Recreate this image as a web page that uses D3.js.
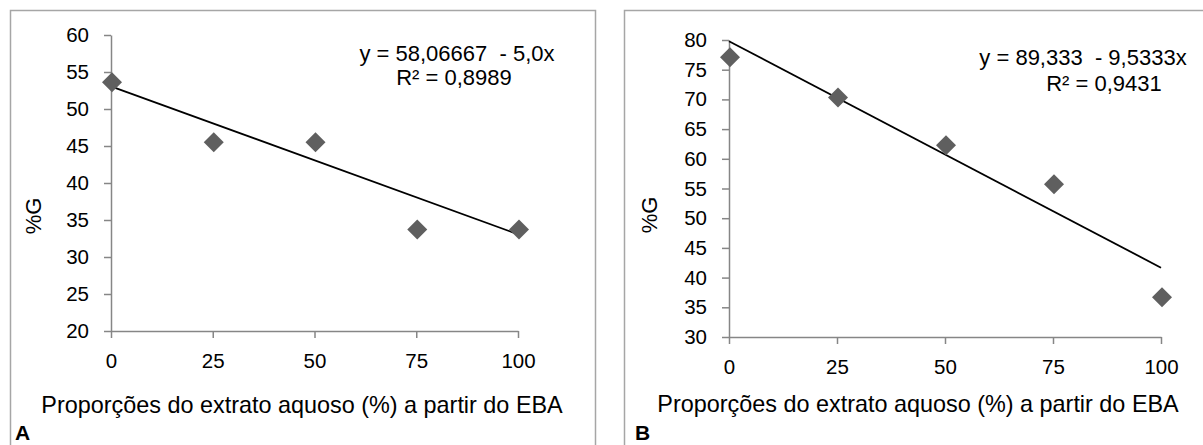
<!DOCTYPE html>
<html>
<head>
<meta charset="utf-8">
<script src="https://cdn.jsdelivr.net/npm/d3@7"></script>
<style>
  html, body { margin: 0; padding: 0; background: #fff; }
  svg { display: block; font-family: "Liberation Sans", Arial, sans-serif; }
  text { fill: #000; }
</style>
</head>
<body>
<svg id="chart" width="1203" height="445"></svg>
<script>
// ---------- data ----------
const categories = [0, 25, 50, 75, 100];
const valuesA = [53.6, 45.5, 45.5, 33.7, 33.7];
const valuesB = [77.1, 70.3, 62.3, 55.7, 36.7];
const trendA = [53.07, 33.07];
const trendB = [79.8, 41.67];
const yTicksA = [20, 25, 30, 35, 40, 45, 50, 55, 60];
const yTicksB = [30, 35, 40, 45, 50, 55, 60, 65, 70, 75, 80];
const xTickLabels = ["0", "25", "50", "75", "100"];
const eqA = ["y = 58,06667  - 5,0x", "R² = 0,8989"];
const eqB = ["y = 89,333  - 9,5333x", "R² = 0,9431"];
const xTitle = "Proporções do extrato aquoso (%) a partir do EBA";
const yTitle = "%G";
const panelLabels = ["A", "B"];

// ---------- layout ----------
const panels = [
  { label: panelLabels[0], values: valuesA, trend: trendA, yTicks: yTicksA, eq: eqA,
    frameX: 10, frameW: 585, x0: 111, x1: 518, yTop: 35, yBot: 331,
    eqX: [457, 454], eqY: [61, 85], yTitleX: 41, yTitleY: 216, titleX: 302, titleY: 413,
    labelX: 15 },
  { label: panelLabels[1], values: valuesB, trend: trendB, yTicks: yTicksB, eq: eqB,
    frameX: 624, frameW: 588, x0: 729, x1: 1161, yTop: 40, yBot: 337,
    eqX: [1083, 1104], eqY: [65, 91], yTitleX: 657, yTitleY: 215, titleX: 918, titleY: 412,
    labelX: 635 }
];

const svg = d3.select("#chart");

panels.forEach(p => {
  const g = svg.append("g");

  // frame
  g.append("rect")
    .attr("x", p.frameX + 0.5).attr("y", 10.5)
    .attr("width", p.frameW).attr("height", 460)
    .attr("fill", "none").attr("stroke", "#a6a6a6").attr("stroke-width", 1.5);

  const x = d3.scaleLinear().domain([categories[0], categories[categories.length - 1]]).range([p.x0, p.x1]);
  const y = d3.scaleLinear().domain([p.yTicks[0], p.yTicks[p.yTicks.length - 1]]).range([p.yBot, p.yTop]);

  // y axis
  const yAxis = g.append("g")
    .attr("transform", `translate(${p.x0},0)`)
    .call(d3.axisLeft(y).tickValues(p.yTicks).tickSize(7).tickSizeOuter(0).tickPadding(15));
  // x axis
  const xAxis = g.append("g")
    .attr("transform", `translate(0,${p.yBot})`)
    .call(d3.axisBottom(x).tickValues(categories).tickFormat((d, i) => xTickLabels[i])
      .tickSize(7).tickSizeOuter(0).tickPadding(15));

  [yAxis, xAxis].forEach(a => {
    a.selectAll("path, line").attr("stroke", "#868686").attr("stroke-width", 1.5);
    a.selectAll("text").attr("font-size", 20.5).attr("fill", "#000")
      .attr("font-family", "'Liberation Sans', Arial, sans-serif");
  });

  // trendline
  g.append("line")
    .attr("x1", x(categories[0])).attr("y1", y(p.trend[0]))
    .attr("x2", x(categories[categories.length - 1])).attr("y2", y(p.trend[1]))
    .attr("stroke", "#000").attr("stroke-width", 1.8);

  // markers
  const sym = d3.symbol().type(d3.symbolSquare).size(200);
  g.selectAll("path.pt")
    .data(p.values)
    .join("path")
    .attr("class", "pt")
    .attr("d", sym)
    .attr("transform", (d, i) => `translate(${x(categories[i]) + 1},${y(d)}) rotate(45)`)
    .attr("fill", "#5f5f5f");

  // equation
  p.eq.forEach((t, i) => {
    g.append("text")
      .attr("x", p.eqX[i]).attr("y", p.eqY[i])
      .attr("text-anchor", "middle")
      .attr("font-size", 22)
      .style("white-space", "pre")
      .attr("xml:space", "preserve")
      .text(t);
  });

  // axis titles
  g.append("text")
    .attr("x", p.titleX).attr("y", p.titleY)
    .attr("text-anchor", "middle").attr("font-size", 23.4)
    .text(xTitle);
  g.append("text")
    .attr("transform", `translate(${p.yTitleX},${p.yTitleY}) rotate(-90)`)
    .attr("text-anchor", "middle").attr("font-size", 22)
    .text(yTitle);

  // panel label
  g.append("text")
    .attr("x", p.labelX).attr("y", 440)
    .attr("font-size", 21).attr("font-weight", "bold")
    .text(p.label);
});
</script>
</body>
</html>
